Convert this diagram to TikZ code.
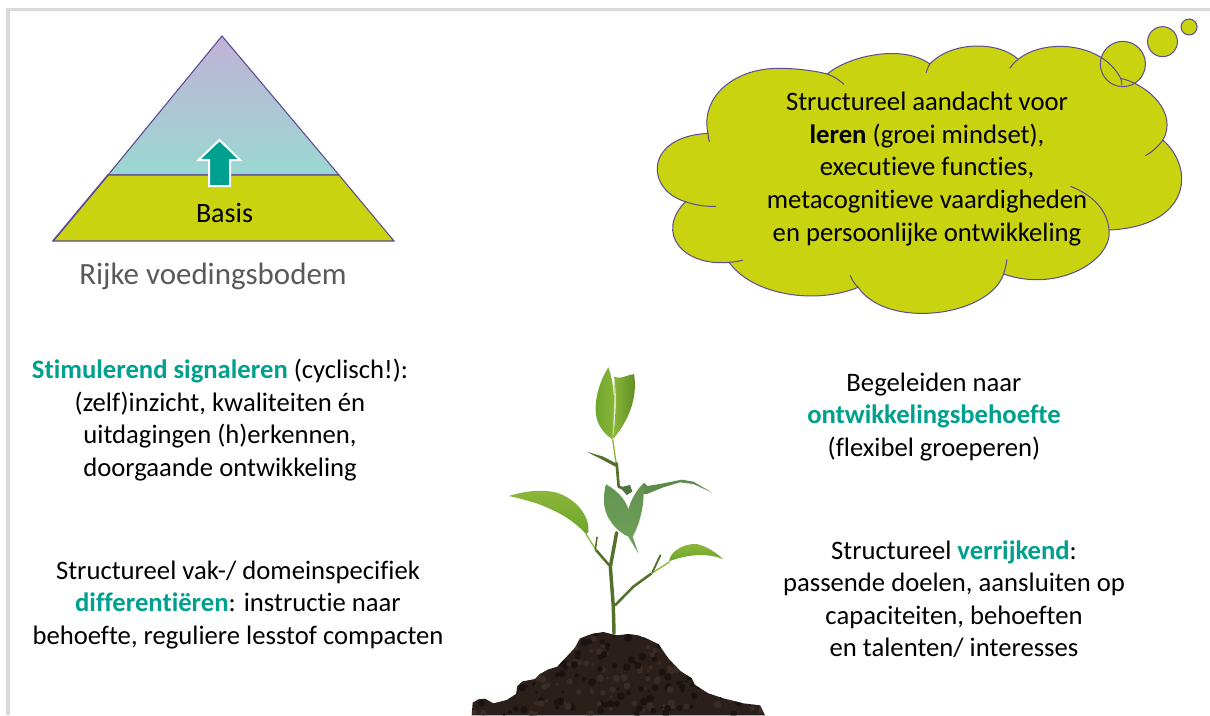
\documentclass[tikz,border=0pt]{standalone}
\usepackage{fontspec}
\setmainfont[Ligatures=NoCommon]{Carlito}
\definecolor{lime}{HTML}{C9D30F}
\definecolor{teal2}{HTML}{00A08E}
\definecolor{edge}{HTML}{5B4A96}
\definecolor{framegray}{HTML}{D9D9D9}
\definecolor{soil}{HTML}{2A1F1B}
\definecolor{soilb}{HTML}{3A2B25}
\definecolor{soilc}{HTML}{1B1311}
\definecolor{leafa}{HTML}{8DB83A}
\definecolor{leafb}{HTML}{6BA42C}
\definecolor{leafc}{HTML}{6FA35A}
\definecolor{stemc}{HTML}{54702B}
\newcommand{\hl}[1]{\textbf{\textcolor{teal2}{#1}}}
\tikzset{
  body/.style={align=center,font=\fontsize{20}{24.4}\selectfont,text=black,inner sep=0pt},
  cloudline/.style={draw=edge,line width=0.75pt},
  stem/.style={draw=stemc,line cap=round,line join=round},
}
\begin{document}
\begin{tikzpicture}[x=0.75pt,y=-0.75pt]
\useasboundingbox (0,0) rectangle (1210,715);
\fill[white] (0,0) rectangle (1210,715);
% frame
\draw[framegray,line width=2.4pt] (8,715) -- (8,9.5) -- (1210,9.5);
% pyramid
\shade[shading=axis,top color={rgb,255:red,193;green,178;blue,214},bottom color={rgb,255:red,154;green,216;blue,210}] (222,36) -- (339,175) -- (108,175) -- cycle;
\draw[edge,line width=0.8pt,line join=miter] (222,36) -- (339,175) -- (108,175) -- cycle;
\filldraw[fill=lime,draw=edge,line width=0.8pt] (108,175) -- (339,175) -- (394,241) -- (53,241) -- cycle;
\draw[edge,line width=1.2pt] (108,175) -- (53,241);
\node[body,font=\fontsize{21}{26}\selectfont] (basis) at (224.5,213) {Basis};
% arrow
\filldraw[fill=teal2,draw=white,line width=1.5pt,line join=miter] (219.5,140) -- (240,160) -- (230,160) -- (230,186) -- (209,186) -- (209,160) -- (198.5,160) -- cycle;
\node[inner sep=0pt,text=black!65,font=\fontsize{23.2}{26}\selectfont] (rijke) at (213,276) {Rijke voedingsbodem};
% cloud
\begin{scope}[shift={(640,0)},x=0.2727pt,y=-0.25pt]
\fill[lime] (1328,192) ellipse (62 and 68);
\filldraw[fill=lime,cloudline]
 (187,400) .. controls (165,290) and (260,205) .. (380,205)
 .. controls (430,205) and (480,212) .. (515,222)
 .. controls (570,170) and (720,130) .. (797,192)
 .. controls (860,120) and (990,125) .. (1040,178)
 .. controls (1110,115) and (1270,125) .. (1322,235)
 .. controls (1400,255) and (1480,340) .. (1438,420)
 .. controls (1530,510) and (1510,680) .. (1290,690)
 .. controls (1300,780) and (1150,880) .. (1000,822)
 .. controls (960,950) and (680,990) .. (600,862)
 .. controls (480,915) and (310,885) .. (245,787)
 .. controls (120,800) and (40,700) .. (125,605)
 .. controls (15,570) and (10,410) .. (187,400) -- cycle;
% lobe tails
\draw[cloudline] (187,400) .. controls (187,410) and (189,418) .. (191,425);
\draw[cloudline] (515,222) .. controls (535,230) and (550,242) .. (561,253);
\draw[cloudline] (797,192) .. controls (792,200) and (789,209) .. (787,218);
\draw[cloudline] (1040,178) .. controls (1030,186) and (1023,195) .. (1017,205);
\draw[cloudline] (1322,235) .. controls (1324,240) and (1325,248) .. (1325,255);
\draw[cloudline] (1438,420) .. controls (1425,440) and (1410,455) .. (1390,467);
\draw[cloudline] (1290,690) .. controls (1285,630) and (1245,585) .. (1184,559);
\draw[cloudline] (1000,822) .. controls (1004,808) and (1007,795) .. (1009,778);
\draw[cloudline] (600,862) .. controls (590,852) and (583,840) .. (578,826);
\draw[cloudline] (245,787) .. controls (258,786) and (270,784) .. (283,780);
\draw[cloudline] (125,605) .. controls (150,615) and (180,620) .. (209,619);
% thought bubbles
\filldraw[fill=lime,cloudline] (1510,81) ellipse (22 and 24);
\filldraw[fill=lime,cloudline] (1437,125) ellipse (41 and 45);
\draw[cloudline] (1328,192) ellipse (62 and 68);
\end{scope}
\node[body] (cloudtext) at (927,169) {Structureel aandacht voor\\\textbf{leren} (groei mindset),\\executieve functies,\\metacognitieve vaardigheden\\en persoonlijke ontwikkeling};
% plant
\begin{scope}[shift={(460,350)},x=0.25pt,y=-0.25pt]
% soil
\begin{scope}
\clip (35,1096) -- (38,1058) -- (55,1048) -- (75,1046) -- (100,1060) -- (140,1050) -- (168,1032) -- (172,1008) -- (188,994) -- (225,987) -- (240,972) -- (265,958) -- (292,950) -- (318,922) -- (345,893) -- (360,865) -- (395,852) -- (430,846) -- (470,856) -- (505,852) -- (535,856) -- (565,868) -- (595,882) -- (625,925) -- (660,962) -- (695,985) -- (705,1005) -- (745,1030) -- (790,1045) -- (850,1060) -- (900,1066) -- (915,1096) -- cycle;
\fill[soil] (0,830) rectangle (950,1100);
\pgfmathsetseed{4217}
\foreach \i in {1,...,320}{
  \pgfmathsetmacro{\px}{40+870*rnd}
  \pgfmathsetmacro{\py}{845+250*rnd}
  \pgfmathsetmacro{\pr}{4+8*rnd}
  \pgfmathtruncatemacro{\pc}{mod(\i,2)}
  \ifnum\pc=0 \fill[soilb] (\px,\py) circle (\pr);
  \else \fill[soilc] (\px,\py) circle (\pr);\fi
}
\end{scope}
% stems
\draw[stem,line width=2.6pt] (462,850) -- (460,770) -- (451,650) -- (470,548);
\draw[stem,line width=1.9pt] (466,765) -- (520,710) -- (575,670);
\draw[stem,line width=1pt,draw=leafa] (575,670) -- (628,636);
\draw[stem,line width=1.4pt] (578,665) -- (601,616);
\draw[stem,line width=1.9pt] (447,645) -- (408,600);
\draw[stem,line width=1pt,draw=leafa] (408,600) -- (378,552);
\draw[stem,line width=1.2pt] (406,598) -- (411,562);
\draw[stem,line width=1pt,draw=leafa] (458,268) -- (468,338);
\draw[stem,line width=2pt] (470,340) -- (476,410) -- (495,418);
\fill[stemc] (380,305) -- (430,320) -- (472,342) -- (466,350) -- (425,328) -- cycle;
% small bud
\fill[leafc!70!black] (480,412) -- (510,405) -- (517,425) -- (500,435) -- cycle;
% right thin leaf
\fill[leafc!85!black] (535,432) -- (552,398) -- (562,408) -- (600,402) -- (665,389) -- (700,395) -- (757,428) -- (700,402) -- (660,397) -- (610,412) -- (560,432) -- cycle;
% centre leaf
\shade[top color=leafc!90!black,bottom color=leafc] (438,403) .. controls (470,420) and (498,450) .. (505,478) .. controls (512,450) and (530,420) .. (550,400) .. controls (556,470) and (535,530) .. (518,560) -- (536,612) -- (505,560) .. controls (470,545) and (430,500) .. (432,450) .. controls (432,430) and (434,415) .. (438,403) -- cycle;
% top leaf
\shade[left color=leafb,right color=leafa] (445,52) .. controls (415,100) and (400,160) .. (410,205) .. controls (418,235) and (440,258) .. (458,268) .. controls (462,200) and (470,120) .. (445,52) -- cycle;
\shade[left color=leafa,right color=leafb!85!black] (462,80) .. controls (480,90) and (500,75) .. (522,72) .. controls (530,120) and (520,170) .. (495,215) .. controls (485,235) and (470,255) .. (458,268) .. controls (468,200) and (470,130) .. (462,80) -- cycle;
\draw[leafa!50!white,line width=0.5pt] (458,268) .. controls (462,200) and (466,130) .. (462,85);
% left leaf
\shade[top color=leafa,bottom color=leafb] (146,438) .. controls (190,425) and (240,416) .. (290,428) .. controls (345,445) and (390,495) .. (385,547) -- (378,552) .. controls (340,510) and (290,482) .. (235,462) .. controls (205,452) and (175,444) .. (146,438) -- cycle;
% right leaf
\shade[top color=leafa,bottom color=leafb] (627,634) .. controls (630,605) and (670,580) .. (710,582) .. controls (745,590) and (770,610) .. (790,628) .. controls (750,610) and (690,610) .. (627,634) -- cycle;
\end{scope}
% texts
\node[body] (sig) at (220,420) {\hl{Stimulerend signaleren} (cyclisch!):\\(zelf)inzicht, kwaliteiten én\\uitdagingen (h)erkennen,\\doorgaande ontwikkeling};
\node[body] (diff) at (238,605) {Structureel vak-/ domeinspecifiek\\\hl{differentiëren}: instructie naar\\behoefte, reguliere lesstof compacten};
\node[body] (beg) at (934,417) {Begeleiden naar\\\hl{ontwikkelingsbehoefte}\\(flexibel groeperen)};
\node[body] (ver) at (954,599) {Structureel \hl{verrijkend}:\\passende doelen, aansluiten op\\capaciteiten, behoeften\\en talenten/ interesses};
\end{tikzpicture}
\end{document}
